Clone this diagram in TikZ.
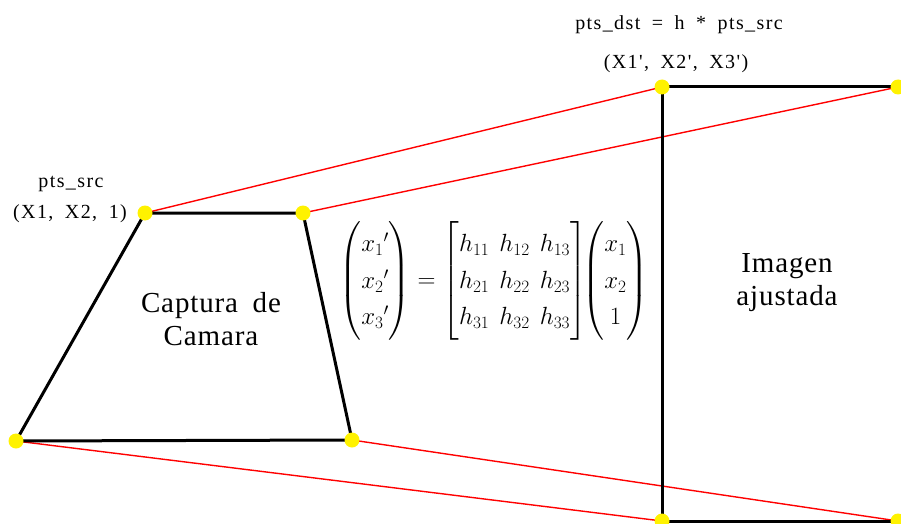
\documentclass[tikz,border=0pt]{standalone}
\usepackage{amsmath}
\usepackage{fontspec}
\setmainfont{Liberation Serif}
\newfontfamily\lblfont[WordSpace=1.8,LetterSpace=7]{Liberation Serif}
\newfontfamily\capfont[WordSpace=1.8,LetterSpace=3]{Liberation Serif}
\begin{document}
\begin{tikzpicture}[x=1pt,y=-1pt,
  redline/.style={red, line width=1.4pt},
  blackline/.style={black, line width=3pt, line join=round},
  dot/.style={circle, fill=yellow, inner sep=0pt, minimum size=15pt},
  small/.style={font=\lblfont\fontsize{20}{24}\selectfont, anchor=base, inner sep=0pt},
  big/.style={font=\capfont\fontsize{29}{32}\selectfont, anchor=base, inner sep=0pt}]
\useasboundingbox (0,0) rectangle (901,524);
% corner points
\coordinate (s1) at (145,213);
\coordinate (s2) at (303,213);
\coordinate (s3) at (352,440);
\coordinate (s4) at (16,441);
\coordinate (d1) at (662,87);
\coordinate (d2) at (898,87);
\coordinate (d3) at (898,521);
\coordinate (d4) at (662,521);
% projection lines
\draw[redline] (s1) -- (d1);
\draw[redline] (s2) -- (d2);
\draw[redline] (s4) -- (d4);
\draw[redline] (s3) -- (d3);
% shapes
\draw[blackline] (s1) -- (s2) -- (s3) -- (s4) -- cycle;
\draw[blackline] (d2) -- (d1) -- (d4) -- (d3);
% dots
\foreach \p in {s1,s2,s3,s4,d1,d2,d3,d4}
  \node[dot] (dot\p) at (\p) {};
% labels
\node[small] (dstlbl) at (679,30) {pts\_dst = h * pts\_src};
\node[small] (dstpt) at (676,69) {(X1', X2', X3')};
\node[small] (srclbl) at (71,187) {pts\_src};
\node[small] (srcpt) at (70,218) {(X1, X2, 1)};
\node[big] (cap1) at (211,312) {Captura de};
\node[big] (cap2) at (211,345) {Camara};
\node[big] (img1) at (787,272) {Imagen};
\node[big] (img2) at (787,305) {ajustada};
\node[font=\fontsize{26}{30}\selectfont, inner sep=0pt] (eq) at (494,281)
  {\renewcommand{\arraystretch}{1.22}$\begin{pmatrix} {x_1}' \\ {x_2}' \\ {x_3}' \end{pmatrix}
   = \begin{bmatrix} h_{11} & h_{12} & h_{13} \\ h_{21} & h_{22} & h_{23} \\ h_{31} & h_{32} & h_{33} \end{bmatrix}\!\!
   \begin{pmatrix} x_1 \\ x_2 \\ 1 \end{pmatrix}$};
\end{tikzpicture}
\end{document}
